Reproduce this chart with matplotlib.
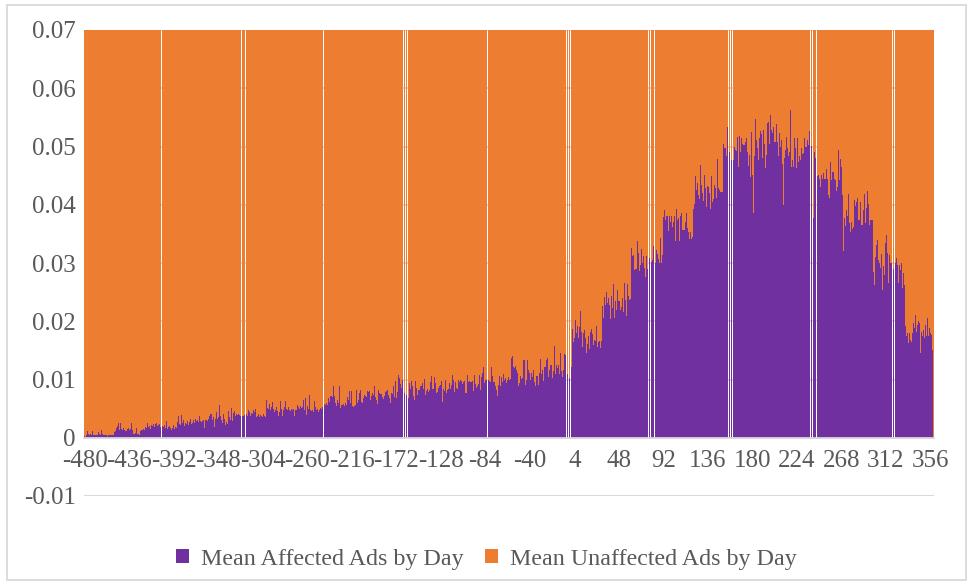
import matplotlib

matplotlib.use("Agg")
import matplotlib.pyplot as plt
import numpy as np
from matplotlib.patches import Patch, Rectangle

# one category per day, -480 .. 359
FIRST_DAY = -480
LAST_DAY = 359

# mean share of affected ads, in units of 1e-4 (None = no data that day)
AFFECTED = [
    3, 2, 4, 11, 6, 5, 6, 5, 11, 5,              # -480
    5, 4, 5, 5, 10, 6, 5, 14, 7, 4,              # -470
    4, 4, 4, 3, 4, 4, 4, 5, 4, 4,                # -460
    10, 12, 17, 21, 25, 14, 26, 15, 13, 16,      # -450
    14, 12, 15, 17, 14, 15, 25, 13, 7, 6,        # -440
    8, 16, 6, 7, 5, 12, 14, 13, 15, 14,          # -430
    19, 17, 25, 18, 20, 15, 22, 21, 24, 19,      # -420
    23, 25, 20, 22, 24, 18, None, 20, 18, 22,    # -410
    17, 28, 15, 18, 21, 16, 14, 17, 22, 15,      # -400
    18, 16, 27, 37, 24, 22, 39, 25, 30, 21,      # -390
    26, 23, 28, 22, 27, 33, 24, 26, 30, 25,      # -380
    33, 28, 30, 27, 37, 29, 27, 28, 30, 17,      # -370
    30, 31, 28, 33, 37, 41, 30, 35, 19, 32,      # -360
    45, 33, 36, 57, 38, 30, 25, 40, 33, 22,      # -350
    27, 24, 46, 35, 30, 51, 29, 42, 46, 38,      # -340
    40, 39, 41, 39, 38, None, 38, 37, 39, None,  # -330
    40, 38, 48, 44, 37, 42, 40, 47, 45, 49,      # -320
    36, 38, 40, 35, 39, 37, 36, 40, 38, 35,      # -310
    65, 51, 50, 58, 48, 52, 61, 50, 44, 48,      # -300
    52, 46, 37, 45, 63, 50, 38, 47, 52, 63,      # -290
    49, 47, 53, 48, 46, 50, 47, 49, 37, 48,      # -280
    57, 52, 50, 55, 51, 53, 65, 48, 68, 39,      # -270
    55, 49, 74, 47, 46, 47, 45, 63, 52, 48,      # -260
    50, 45, 47, 51, 49, 53, None, 58, 56, 60,    # -250
    57, 68, 62, 71, 72, 70, 88, 72, 60, 55,      # -240
    64, 59, 89, 51, 56, 57, 58, 55, 59, 57,      # -230
    70, 65, 80, 60, 81, 54, 53, 55, 56, 82,      # -220
    60, 64, 77, 82, 62, 60, 68, 73, 72, 70,      # -210
    80, 79, 81, 65, 71, 76, 74, 88, 70, 65,      # -200
    58, 82, 76, 75, 70, 67, 72, 78, 80, 82,      # -190
    74, 68, 60, 77, 75, 88, 70, 97, 69, 79,      # -180
    108, 102, 92, 85, 99, None, 76, None, 74, None,  # -170
    68, 94, 83, 97, 88, 71, 65, 97, 85, 74,      # -160
    82, 82, 89, 89, 94, 83, 101, 73, 80, 84,     # -150
    78, 82, 95, 106, 83, 84, 105, 94, 77, 79,    # -140
    86, 88, 90, 98, 62, 83, 81, 99, 76, 82,      # -130
    84, 94, 83, 90, 108, 99, 78, 96, 86, 84,     # -120
    99, 95, 99, 97, 93, 95, 98, 76, 108, 96,     # -110
    98, 96, 95, 97, 80, 108, 92, 85, 88, 93,     # -100
    107, 82, 105, 111, 122, 94, 99, 99, None, 99,  # -90
    97, 96, 122, 106, 95, 96, 88, 82, 72, 91,    # -80
    106, 88, 105, 95, 110, 100, 102, 94, 99, 105,  # -70
    99, 101, 137, 141, 122, 119, 124, 117, 111, 88,  # -60
    94, 106, 101, 103, 133, 134, 91, 99, 134, 117,   # -50
    112, 99, 112, 105, 117, 95, 88, 106, 106, 91,    # -40
    112, 135, 110, 117, 98, 122, 122, 133, 137, 105,  # -30
    117, 125, 102, 114, 158, 110, 125, 119, 125, 110,  # -20
    146, 114, 105, 117, 144, 142, None, 110, None, 102,  # -10
    None, 121, 186, 165, 171, 202, 180, 191, 171, 190,   # 0
    217, 182, 156, 180, 185, 171, 146, 161, 175, 153,    # 10
    182, 186, 178, 160, 168, 166, 191, 156, 164, 166,    # 20
    154, 166, 226, 206, 242, 228, 251, 232, 240, 228,    # 30
    204, 244, 222, 264, 206, 235, 220, 254, 235, 235,    # 40
    219, 224, 240, 216, 266, 236, 209, 264, 244, 236,    # 50
    238, 326, 312, 313, 288, 290, 338, 317, 287, 297,    # 60
    324, 300, 312, 292, 276, 312, 290, None, 309, None,  # 70
    302, 305, 329, None, 300, 322, 316, 307, 300, 343,   # 80
    300, 314, 379, 391, 374, 381, 381, 355, 380, 371,    # 90
    381, 362, 371, 381, 338, 393, 374, 378, 338, 381,    # 100
    386, 357, 357, 357, 371, 386, 360, 353, 341, 353,    # 110
    341, 344, 393, 401, 449, 425, 437, 417, 410, 468,    # 120
    434, 420, 406, 451, 429, 396, 432, 431, 420, 393,    # 130
    449, 405, 410, 434, 429, 412, 479, 429, 425, 422,    # 140
    422, 505, 497, 497, 483, 534, None, 491, None, 477,  # 150
    None, 477, 500, 494, 492, 517, 464, 518, 490, 514,   # 160
    504, 503, 503, 508, 515, 491, 467, 485, 447, 525,    # 170
    451, 385, 483, 547, 512, 497, 477, 515, 526, 521,    # 180
    480, 528, 504, 463, 485, 541, 542, 505, 554, 528,    # 190
    524, 534, 507, 507, 539, 507, 483, 524, 499, 511,    # 200
    470, 400, 481, 494, 517, 497, 483, 490, 563, 464,    # 210
    476, 464, 514, 497, 463, 514, 474, 483, 477, 497,    # 220
    487, 488, 514, 500, 511, 503, 526, None, 501, None,  # 230
    378, 491, 480, None, 450, 451, 444, 431, 451, 444,   # 240
    454, 445, 444, 462, 444, 417, 412, 474, 443, 457,    # 250
    457, 444, 443, 423, 431, 494, 443, 479, 464, 417,    # 260
    321, 378, 364, 391, 381, 419, 368, 354, 371, 358,    # 270
    362, 409, 398, 405, 411, 373, 373, 405, 365, 365,    # 280
    391, 419, 369, 394, 423, 401, 365, 374, 373, 374,    # 290
    285, 262, 311, 331, 340, 305, 300, 291, 316, 254,    # 300
    295, 280, 334, 348, 317, 265, 314, 300, None, 290,   # 310
    None, 300, 308, 297, 265, 297, 288, 300, 257, 283,   # 320
    262, 191, 174, 180, 162, 180, 168, 165, 180, 197,    # 330
    188, 211, 182, 194, 200, 197, 145, 182, 174, 185,    # 340
    171, 194, 174, 205, 174, 188, 180, 177, 150, 0,      # 350
]

TICK_DAYS = list(range(-480, 357, 44))
Y_TICKS = [-0.01, 0.0, 0.01, 0.02, 0.03, 0.04, 0.05, 0.06, 0.07]
Y_LABELS = ["-0.01", "0", "0.01", "0.02", "0.03", "0.04", "0.05", "0.06", "0.07"]
SERIES = ["Mean Affected Ads by Day", "Mean Unaffected Ads by Day"]

PURPLE = "#7030a0"
ORANGE = "#ed7d31"
GRID = "#d9d9d9"
TEXT = "#595959"

plt.rcParams["font.family"] = ["Liberation Serif", "DejaVu Serif"]
plt.rcParams["axes.unicode_minus"] = False

days = np.arange(FIRST_DAY, LAST_DAY + 1)
assert len(AFFECTED) == len(days)
affected = np.array([np.nan if v is None else v / 1e4 for v in AFFECTED])
# the two series are shares of the day's ads, so they stack to one
unaffected = 1.0 - affected

fig = plt.figure(figsize=(9.67, 5.82), dpi=100)
ax = fig.add_axes([84 / 967, 1 - 496 / 582, 850 / 967, 466 / 582])

ax.bar(days, affected, width=1.0, color=PURPLE, linewidth=0,
       antialiased=False, zorder=2)
ax.bar(days, unaffected, bottom=affected, width=1.0, color=ORANGE,
       linewidth=0, antialiased=False, zorder=2)

ax.set_xlim(FIRST_DAY - 0.5, LAST_DAY + 0.5)
ax.set_ylim(-0.01, 0.07)
ax.set_yticks(Y_TICKS)
ax.set_yticklabels(Y_LABELS)
ax.set_xticks(TICK_DAYS)
ax.set_xticklabels([str(d) for d in TICK_DAYS])

ax.yaxis.grid(True, color=GRID, linewidth=1.5)
ax.set_axisbelow(True)
for side in ["top", "right", "left"]:
    ax.spines[side].set_visible(False)
ax.spines["bottom"].set_position(("data", 0))
ax.spines["bottom"].set_color(GRID)
ax.spines["bottom"].set_linewidth(1.3)
ax.spines["bottom"].set_zorder(3)

ax.tick_params(axis="both", length=0, labelsize=18, colors=TEXT)
ax.tick_params(axis="x", pad=8.5)
ax.tick_params(axis="y", pad=6)

handles = [Patch(facecolor=PURPLE, edgecolor="none"),
           Patch(facecolor=ORANGE, edgecolor="none")]
leg = fig.legend(handles, SERIES, loc="center", bbox_to_anchor=(0.503, 1 - 559 / 582),
                 ncol=2, frameon=False, fontsize=17.3, labelcolor=TEXT,
                 handlelength=0.55, handleheight=0.55, handletextpad=0.5,
                 columnspacing=0.9)

fig.patches.append(Rectangle((7 / 967, 1 - 580 / 582), 959 / 967, 575 / 582,
                             transform=fig.transFigure, fill=False,
                             edgecolor=GRID, linewidth=1.3))

fig.savefig("out.png", dpi=100)
